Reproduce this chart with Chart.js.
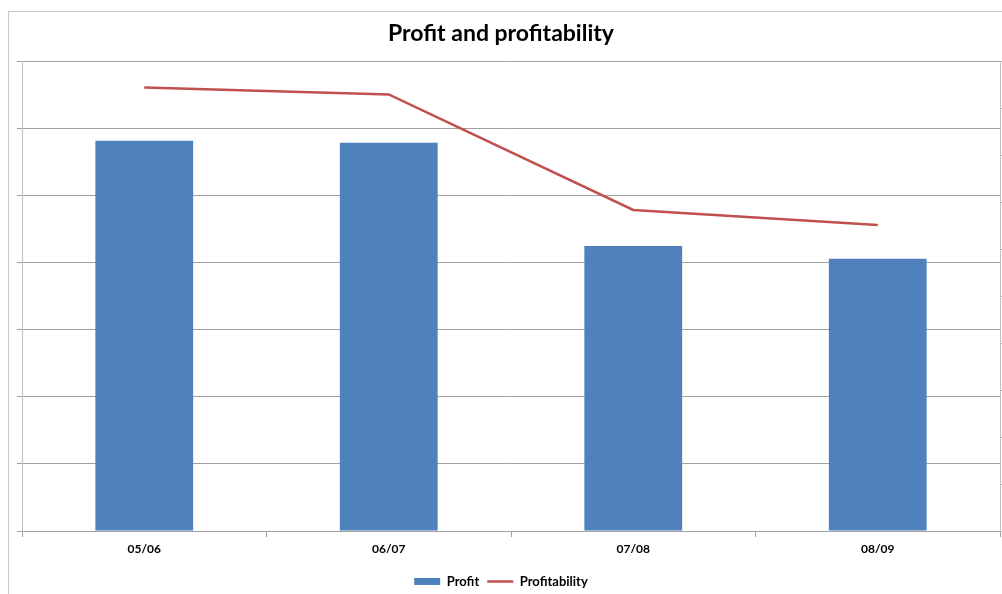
<!DOCTYPE html>
<html lang="en">
<head>
    <meta charset="UTF-8">
    <title>Profit and profitability</title>
    <style>
        body {
            margin: 0;
            background-color: #fff;
            overflow: hidden;
        }
        .frame {
            position: absolute;
            left: 8px;
            top: 11px;
            width: 1100px;
            height: 700px;
            border-left: 1px solid #c8c8c8;
            border-top: 1px solid #c8c8c8;
        }
        .chart-box {
            position: absolute;
            left: 0;
            top: 0;
            width: 1002px;
            height: 594px;
        }
    </style>
    <script src="https://cdn.jsdelivr.net/npm/chart.js"></script>
</head>
<body>
    <div class="frame"></div>
    <div class="chart-box">
        <canvas id="chart" width="1002" height="594"></canvas>
    </div>

    <script>
        // data
        const years = ['05/06', '06/07', '07/08', '08/09'];
        const profit = [5.82, 5.79, 4.25, 4.06];
        const profitability = [9.45, 9.30, 6.84, 6.52];

        const axisGray = '#a0a0a0';
        Chart.defaults.font.family = 'Lato, "Open Sans", sans-serif';

        const ctx = document.getElementById('chart').getContext('2d');
        new Chart(ctx, {
            type: 'bar',
            data: {
                labels: years,
                datasets: [
                    {
                        label: 'Profit',
                        data: profit,
                        backgroundColor: '#4F81BD',
                        borderWidth: 0,
                        barPercentage: 0.4,
                        categoryPercentage: 1.0,
                        pointStyle: 'rect',
                        yAxisID: 'y'
                    },
                    {
                        type: 'line',
                        label: 'Profitability',
                        data: profitability,
                        borderColor: '#C0504D',
                        backgroundColor: '#C0504D',
                        borderWidth: 2.5,
                        pointRadius: 0,
                        pointStyle: 'line',
                        tension: 0,
                        yAxisID: 'y1'
                    }
                ]
            },
            options: {
                responsive: false,
                animation: false,
                layout: { padding: { left: 0, right: 0, top: 0, bottom: -4 } },
                plugins: {
                    title: {
                        display: true,
                        text: 'Profit and profitability',
                        color: '#000',
                        font: { size: 23, weight: 'bold' },
                        padding: { top: 20, bottom: 14 }
                    },
                    legend: {
                        position: 'bottom',
                        labels: {
                            usePointStyle: true,
                            pointStyleWidth: 26,
                            boxHeight: 7,
                            color: '#000',
                            font: { size: 13, weight: 'bold' },
                            padding: 8
                        }
                    },
                    tooltip: { enabled: false }
                },
                scales: {
                    x: {
                        offset: true,
                        grid: {
                            offset: true,
                            drawOnChartArea: false,
                            tickLength: 6,
                            color: axisGray
                        },
                        border: { color: axisGray },
                        ticks: {
                            color: '#000',
                            font: { size: 12, weight: 'bold' },
                            padding: 5
                        },
                        afterFit: (scale) => { scale.height = 36; }
                    },
                    y: {
                        position: 'left',
                        min: 0,
                        max: 7,
                        ticks: { stepSize: 1, display: false },
                        grid: { color: axisGray, tickLength: 5 },
                        border: { color: '#c0c0c0' },
                        afterFit: (scale) => { scale.width = 22; }
                    },
                    y1: {
                        position: 'right',
                        min: 0,
                        max: 10,
                        ticks: { stepSize: 1, display: false },
                        grid: { drawOnChartArea: false, color: '#b0b0b0', tickLength: 5 },
                        border: { color: '#c0c0c0' },
                        afterFit: (scale) => { scale.width = 2; }
                    }
                }
            }
        });
    </script>
</body>
</html>
